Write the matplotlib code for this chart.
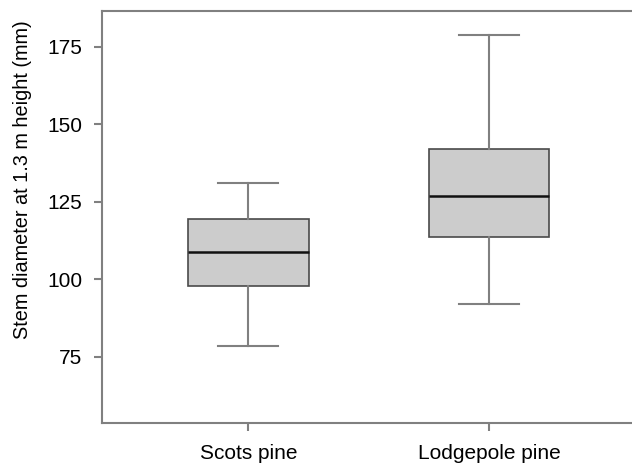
import matplotlib
matplotlib.use("Agg")
import matplotlib.pyplot as plt

categories = ["Scots pine", "Lodgepole pine"]
whisker_low = [78.6, 92.0]
q1 = [97.9, 113.5]
median = [108.9, 126.8]
q3 = [119.6, 141.9]
whisker_high = [131.0, 178.7]
yticks = [75, 100, 125, 150, 175]
ylabel = "Stem diameter at 1.3 m height (mm)"

plt.rcParams['font.family'] = ['Liberation Sans', 'DejaVu Sans']

stats = []
for i, c in enumerate(categories):
    stats.append(dict(label=c, whislo=whisker_low[i], q1=q1[i], med=median[i],
                      q3=q3[i], whishi=whisker_high[i], fliers=[]))

fig = plt.figure(figsize=(6.32, 4.63), dpi=100)
ax = fig.add_axes([102/632, 40/463, 1 - 102/632 + 0.01, 412/463])

ax.bxp(stats, positions=[1, 2], widths=0.5, patch_artist=True, showfliers=False,
       boxprops=dict(facecolor="#cccccc", edgecolor="#4a4a4a", linewidth=1.2),
       whiskerprops=dict(color="#808080", linewidth=1.5),
       capprops=dict(color="#808080", linewidth=1.5),
       medianprops=dict(color="#111111", linewidth=1.8),
       capwidths=0.25)

ax.set_xlim(0.392, 2.62)
ax.set_ylim(53.7, 186.5)
ax.set_yticks(yticks)
ax.set_yticklabels([str(t) for t in yticks])
ax.set_xticks([1, 2])
ax.set_xticklabels(categories)
ax.set_ylabel(ylabel, fontsize=14.3, color="black")
ax.yaxis.set_label_coords(-0.13, 0.59)

for s in ["left", "bottom", "top"]:
    ax.spines[s].set_color("#808080")
    ax.spines[s].set_linewidth(1.5)
ax.spines["right"].set_visible(False)
ax.tick_params(axis="both", colors="#808080", labelcolor="black", labelsize=15,
               length=6, width=1.5, pad=8)
ax.tick_params(axis="x", pad=9)

fig.savefig("out.png", dpi=100)
